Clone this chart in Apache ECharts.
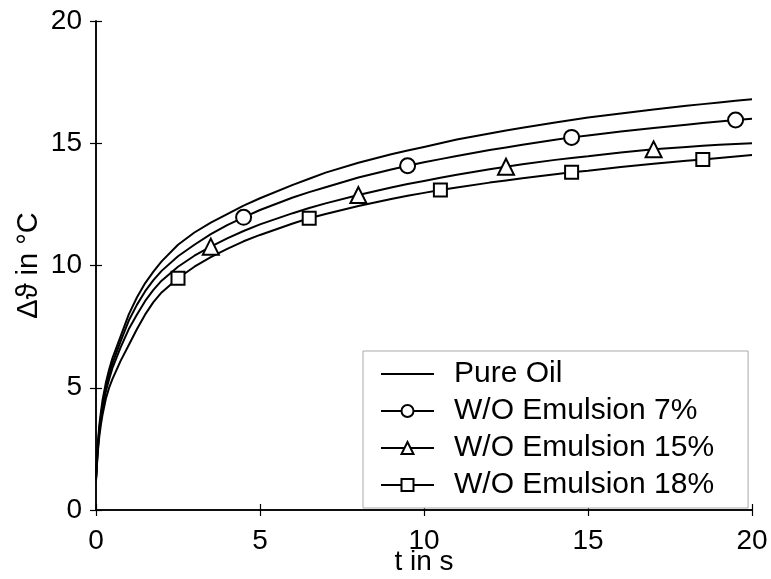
<!DOCTYPE html>
<html>
<head>
<meta charset="utf-8">
<script src="https://cdn.jsdelivr.net/npm/echarts@6/dist/echarts.min.js"></script>
<style>
html,body{margin:0;padding:0;background:#fff;}
#chart{width:771px;height:579px;}
</style>
</head>
<body>
<div id="chart"></div>
<script>
// time axis (s)
var times = [0, 0.05, 0.1, 0.15, 0.2, 0.3, 0.4, 0.5, 0.75, 1, 1.25, 1.5, 1.75, 2, 2.5, 3, 3.5, 4, 4.5, 5, 6, 6.5, 7, 8, 9, 9.5, 10, 10.5, 11, 12, 12.5, 13, 14, 14.5, 15, 16, 17, 18, 18.5, 19, 19.5, 20];
// temperature rise (°C)
var pureOil = [1.3, 2.6, 3.45, 4.0, 4.5, 5.2, 5.75, 6.2, 7.1, 8.0, 8.7, 9.28, 9.75, 10.17, 10.85, 11.35, 11.75, 12.1, 12.45, 12.75, 13.3, 13.55, 13.8, 14.2, 14.55, 14.7, 14.85, 15.0, 15.15, 15.4, 15.52, 15.63, 15.85, 15.95, 16.05, 16.22, 16.38, 16.53, 16.6, 16.67, 16.74, 16.8];
var emulsion7 = [1.3, 2.5, 3.3, 3.85, 4.3, 5.0, 5.55, 6.0, 6.9, 7.75, 8.4, 8.95, 9.4, 9.78, 10.38, 10.85, 11.28, 11.65, 11.97, 12.27, 12.78, 13.0, 13.2, 13.6, 13.93, 14.08, 14.22, 14.35, 14.48, 14.72, 14.83, 14.94, 15.14, 15.24, 15.32, 15.48, 15.62, 15.76, 15.83, 15.89, 15.95, 16.0];
var emulsion15 = [1.25, 2.4, 3.2, 3.7, 4.15, 4.85, 5.35, 5.8, 6.65, 7.4, 8.0, 8.55, 9.0, 9.38, 9.95, 10.4, 10.77, 11.11, 11.41, 11.68, 12.14, 12.35, 12.54, 12.88, 13.19, 13.33, 13.46, 13.59, 13.71, 13.94, 14.04, 14.14, 14.32, 14.4, 14.47, 14.62, 14.75, 14.85, 14.9, 14.94, 14.97, 15.0];
var emulsion18 = [1.2, 2.3, 3.0, 3.5, 3.9, 4.55, 5.0, 5.35, 6.1, 6.75, 7.4, 8.0, 8.5, 8.9, 9.48, 9.95, 10.34, 10.68, 10.99, 11.25, 11.72, 11.93, 12.11, 12.43, 12.72, 12.85, 12.97, 13.09, 13.19, 13.39, 13.48, 13.57, 13.73, 13.81, 13.88, 14.03, 14.16, 14.28, 14.34, 14.4, 14.46, 14.52];
// times at which markers are drawn
var markers7 = [4.5, 9.5, 14.5, 19.5];
var markers15 = [3.5, 8, 12.5, 17];
var markers18 = [2.5, 6.5, 10.5, 14.5, 18.5];
var seriesNames = ['Pure Oil', 'W/O Emulsion 7%', 'W/O Emulsion 15%', 'W/O Emulsion 18%'];
var xTicks = [0, 5, 10, 15, 20];
var yTicks = [0, 5, 10, 15, 20];

function build(vals, marks) {
  return times.map(function (t, i) {
    if (marks && marks.indexOf(t) >= 0) return { value: [t, vals[i]] };
    return { value: [t, vals[i]], symbol: 'none' };
  });
}

var font = 'Liberation Sans, Arial, Helvetica, sans-serif';

function mkSeries(name, vals, marks, symbol, size) {
  return {
    name: name,
    type: 'line',
    data: build(vals, marks),
    symbol: symbol,
    symbolSize: size,
    showSymbol: true,
    smooth: false,
    lineStyle: { color: '#000', width: 2 },
    itemStyle: { color: '#000', borderColor: '#000', borderWidth: 1.8 },
    emphasis: { disabled: true },
    animation: false,
    z: 3
  };
}

var chart = echarts.init(document.getElementById('chart'), null, { renderer: 'canvas' });
var axisLine = { show: true, lineStyle: { color: '#000', width: 1.5 } };
var tick = { show: true, inside: true, length: 6, lineStyle: { color: '#000', width: 1.2 } };
chart.setOption({
  backgroundColor: '#fff',
  animation: false,
  grid: { left: 96, right: 19, top: 21, bottom: 69, containLabel: false, outerBoundsMode: 'none' },
  xAxis: [
    {
      type: 'value', min: xTicks[0], max: xTicks[xTicks.length - 1], interval: 5, position: 'bottom',
      axisLine: axisLine, axisTick: tick, splitLine: { show: false },
      axisLabel: { color: '#000', fontSize: 28, fontFamily: font, margin: 17 },
      name: 't in s', nameLocation: 'middle', nameGap: 38, nameMoveOverlap: false,
      nameTextStyle: { color: '#000', fontSize: 28, fontFamily: font }
    },
    {
      type: 'value', min: xTicks[0], max: xTicks[xTicks.length - 1], interval: 5, position: 'top',
      axisLine: axisLine, axisTick: tick, splitLine: { show: false }, axisLabel: { show: false }
    }
  ],
  yAxis: [
    {
      type: 'value', min: yTicks[0], max: yTicks[yTicks.length - 1], interval: 5, position: 'left',
      axisLine: axisLine, axisTick: tick, splitLine: { show: false },
      axisLabel: { color: '#000', fontSize: 28, fontFamily: font, margin: 14, padding: [5, 0, 0, 0] },
      name: 'Δϑ in °C', nameLocation: 'middle', nameGap: 53, nameRotate: 90, nameMoveOverlap: false,
      nameTextStyle: { color: '#000', fontSize: 29, fontFamily: font }
    },
    {
      type: 'value', min: yTicks[0], max: yTicks[yTicks.length - 1], interval: 5, position: 'right',
      axisLine: axisLine, axisTick: tick, splitLine: { show: false }, axisLabel: { show: false }
    }
  ],
  legend: {
    data: [
      { name: seriesNames[0], itemStyle: { opacity: 0 } },
      { name: seriesNames[1] },
      { name: seriesNames[2] },
      { name: seriesNames[3] }
    ],
    orient: 'vertical',
    left: 363, top: 351,
    padding: [8, 34, 8, 17],
    itemWidth: 53, itemHeight: 15, itemGap: 7,
    backgroundColor: '#fff',
    borderColor: '#aaa', borderWidth: 1, borderRadius: 0,
    textStyle: { color: '#000', fontSize: 30, fontFamily: font, padding: [0, 0, 0, 15] },
    selectedMode: false
  },
  series: [
    mkSeries(seriesNames[0], pureOil, null, 'none', 0),
    mkSeries(seriesNames[1], emulsion7, markers7, 'emptyCircle', 15),
    mkSeries(seriesNames[2], emulsion15, markers15, 'emptyTriangle', 16),
    mkSeries(seriesNames[3], emulsion18, markers18, 'emptyRect', 13)
  ]
});
</script>
</body>
</html>
